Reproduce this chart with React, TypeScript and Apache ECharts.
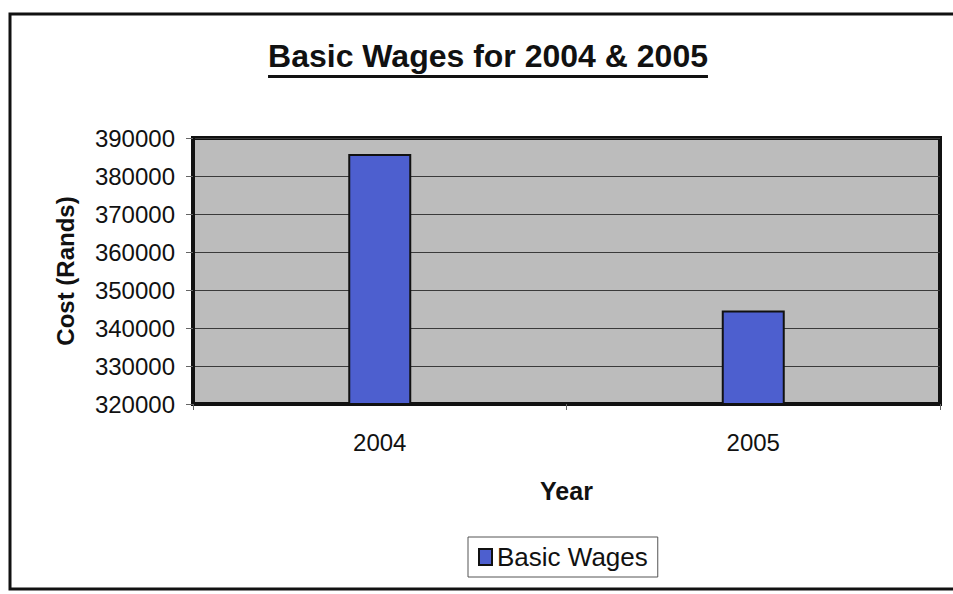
import React, { useEffect, useRef } from "react";
import * as echarts from "echarts";

const categories = ["2004", "2005"];
const basicWages = [385800, 344600];
const seriesName = "Basic Wages";
const titleText = "Basic Wages for 2004 & 2005";
const yAxisName = "Cost (Rands)";
const xAxisName = "Year";
const yMin = 320000;
const yMax = 390000;
const yInterval = 10000;

const FONT = "Arial, 'Liberation Sans', sans-serif";

function measure(text: string, font: string): number {
  const c = document.createElement("canvas");
  const ctx = c.getContext("2d");
  if (!ctx) return text.length * 16;
  ctx.font = font;
  return ctx.measureText(text).width;
}

export default function App() {
  const ref = useRef<HTMLDivElement>(null);
  useEffect(() => {
    if (!ref.current) return;
    const chart = echarts.init(ref.current, undefined, { renderer: "svg" });
    const titleFont = "bold 32px Arial, 'Liberation Sans', sans-serif";
    const tw = measure(titleText, titleFont);
    const tcx = 488;
    chart.setOption({
      animation: false,
      backgroundColor: "#ffffff",
      graphic: [
        {
          type: "rect",
          shape: { x: 10, y: 14, width: 960, height: 575 },
          style: { fill: "none", stroke: "#111", lineWidth: 3 },
          silent: true,
        },
        {
          type: "text",
          x: tcx,
          y: 72,
          style: {
            text: titleText,
            font: titleFont,
            fill: "#111",
            textAlign: "center",
            textVerticalAlign: "bottom",
          },
        },
        {
          type: "rect",
          shape: { x: tcx - tw / 2, y: 75, width: tw, height: 3 },
          style: { fill: "#111" },
        },
      ],
      legend: {
        data: [seriesName],
        left: 468,
        top: 537,
        padding: [7, 10, 7, 10],
        borderColor: "#555",
        borderWidth: 1,
        itemWidth: 13,
        itemHeight: 16,
        itemGap: 8,
        icon: "rect",
        textStyle: { fontFamily: FONT, fontSize: 26, color: "#111" },
      },
      grid: {
        left: 193,
        top: 138,
        right: 13,
        bottom: 190,
        show: true,
        backgroundColor: "#bcbcbc",
        borderColor: "#111",
        borderWidth: 4,
      },
      xAxis: {
        type: "category",
        data: categories,
        name: xAxisName,
        nameLocation: "middle",
        nameGap: 74,
        nameTextStyle: { fontFamily: FONT, fontSize: 25, fontWeight: "bold", color: "#111" },
        axisLine: { show: true, lineStyle: { color: "#111", width: 4 } },
        axisTick: { show: true, length: 6, lineStyle: { color: "#666" } },
        axisLabel: { margin: 26, fontFamily: FONT, fontSize: 24, color: "#111" },
      },
      yAxis: {
        type: "value",
        min: yMin,
        max: yMax,
        interval: yInterval,
        name: yAxisName,
        nameLocation: "middle",
        nameGap: 116,
        nameRotate: 90,
        nameTextStyle: { fontFamily: FONT, fontSize: 24, fontWeight: "bold", color: "#111" },
        axisLine: { show: true, lineStyle: { color: "#111", width: 4 } },
        axisTick: { show: true, length: 7, lineStyle: { color: "#666" } },
        axisLabel: {
          margin: 18,
          fontFamily: FONT,
          fontSize: 24,
          color: "#111",
          formatter: (v: number) => String(v),
        },
        splitLine: { show: true, lineStyle: { color: "#3a3a3a", width: 1 } },
      },
      series: [
        {
          name: seriesName,
          type: "bar",
          data: basicWages,
          barWidth: 63,
          itemStyle: { color: "#4d5fcf", borderColor: "#111", borderWidth: 2 },
        },
      ],
    });
    return () => chart.dispose();
  }, []);
  return (
    <div
      ref={ref}
      style={{ position: "fixed", left: 0, top: 0, width: 953, height: 594 }}
    />
  );
}
